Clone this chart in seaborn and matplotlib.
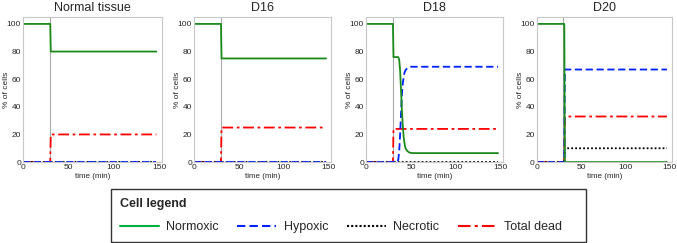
import numpy as np
import pandas as pd
import seaborn as sns
import matplotlib.pyplot as plt
from matplotlib.lines import Line2D
from matplotlib.patches import Rectangle

sns.set_style("white")
plt.rcParams['font.family'] = ['Liberation Sans', 'DejaVu Sans']

titles = ['Normal tissue', 'D16', 'D18', 'D20']

# step curves: times + values per panel
step_t = [0, 30, 30.6, 147]

normal_normoxic = [100, 100, 80, 80]
normal_hypoxic = [0, 0, 0, 0]
normal_necrotic = [0, 0, 0, 0]
normal_dead = [0, 0, 20, 20]

d16_normoxic = [100, 100, 75, 75]
d16_hypoxic = [0, 0, 0, 0]
d16_necrotic = [0, 0, 0, 0]
d16_dead = [0, 0, 25, 25]

d18_normoxic_t = [0, 30, 30.6, 36, 37, 38, 39, 40, 41, 42, 43, 44, 46, 48, 50, 55, 147]
d18_normoxic = [100, 100, 76, 76, 74, 66, 52, 37, 26, 18, 13, 10, 8, 7, 6.6, 6.5, 6.5]
d18_hypoxic_t = [0, 35, 36, 37, 38, 39, 40, 41, 42, 43, 44, 46, 48, 50, 147]
d18_hypoxic = [0, 0, 2, 8, 20, 35, 49, 57, 62, 65, 66.5, 68, 68.6, 69, 69]
d18_necrotic = [0, 0, 0, 0]
d18_dead = [0, 0, 24, 24]

d20_t = [0, 31, 31.6, 147]
d20_normoxic = [100, 100, 0, 0]
d20_hypoxic = [0, 0, 67, 67]
d20_necrotic = [0, 0, 10, 10]
d20_dead = [0, 0, 33, 33]

panels = [
    {'Normoxic': (step_t, normal_normoxic), 'Hypoxic': (step_t, normal_hypoxic),
     'Necrotic': (step_t, normal_necrotic), 'Total dead': (step_t, normal_dead)},
    {'Normoxic': (step_t, d16_normoxic), 'Hypoxic': (step_t, d16_hypoxic),
     'Necrotic': (step_t, d16_necrotic), 'Total dead': (step_t, d16_dead)},
    {'Normoxic': (d18_normoxic_t, d18_normoxic), 'Hypoxic': (d18_hypoxic_t, d18_hypoxic),
     'Necrotic': (step_t, d18_necrotic), 'Total dead': (step_t, d18_dead)},
    {'Normoxic': (d20_t, d20_normoxic), 'Hypoxic': (d20_t, d20_hypoxic),
     'Necrotic': (d20_t, d20_necrotic), 'Total dead': (d20_t, d20_dead)},
]

# draw order: dead first, normoxic on top
styles = {
    'Total dead': dict(color='#ff0000', linestyle=(0, (6, 2, 1.5, 2))),
    'Necrotic': dict(color='black', linestyle=(0, (1, 1.2))),
    'Hypoxic': dict(color='#0022ff', linestyle=(0, (4, 2))),
    'Normoxic': dict(color='#1a8a1a', linestyle='-'),
}

fig = plt.figure(figsize=(6.77, 2.43), dpi=100)
lefts = [0.034, 0.2866, 0.5406, 0.793]
widths = [0.205, 0.203, 0.203, 0.200]

for i in range(4):
    ax = fig.add_axes([lefts[i], 0.333, widths[i], 0.597])
    ax.axvline(30, color='#aaaaaa', lw=0.8)
    for name in ['Total dead', 'Necrotic', 'Hypoxic', 'Normoxic']:
        t, v = panels[i][name]
        df = pd.DataFrame({'t': t, 'v': v})
        sns.lineplot(data=df, x='t', y='v', ax=ax, sort=False, estimator=None,
                     lw=1.3, **styles[name])
    ax.set_xlim(0, 153)
    ax.set_ylim(0, 105)
    ax.set_xticks([0, 50, 100, 150])
    ax.set_yticks([0, 20, 40, 60, 80, 100])
    ax.tick_params(labelsize=6, length=0, pad=1.5)
    ax.set_xlabel('time (min)', fontsize=5.8, labelpad=1.5)
    ax.set_ylabel('% of cells', fontsize=6)
    ax.yaxis.set_label_coords(-0.095, 0.5)
    ax.set_title(titles[i], fontsize=9, pad=4)
    for s in ax.spines.values():
        s.set_color('#c8c8c8')
        s.set_linewidth(0.8)

handles = [Line2D([], [], color='#00b040', lw=1.5, linestyle='-'),
           Line2D([], [], color='#0022ff', lw=1.5, linestyle=(0, (4, 2))),
           Line2D([], [], color='black', lw=1.5, linestyle=(0, (1, 1))),
           Line2D([], [], color='#ff0000', lw=1.5, linestyle=(0, (6, 2, 1.5, 2)))]
labels = ['Normoxic', 'Hypoxic', 'Necrotic', 'Total dead']
leg = fig.legend(handles, labels, loc='lower left', bbox_to_anchor=(111 / 677, 0.005),
                 ncol=4, title='Cell legend', alignment='left', fontsize=9,
                 title_fontproperties={'weight': 'bold', 'size': 9},
                 frameon=False,
                 handlelength=3.1, handletextpad=0.6, columnspacing=1.5,
                 labelspacing=0.9, borderpad=0.7, borderaxespad=0)

# legend box drawn separately so it spans the same width as the original
fig.patches.append(Rectangle((111 / 677, 1.5 / 243), 475 / 677, 53 / 243,
                             transform=fig.transFigure, fill=False,
                             edgecolor='#333333', lw=1.0))

fig.savefig('out.png', dpi=100)
